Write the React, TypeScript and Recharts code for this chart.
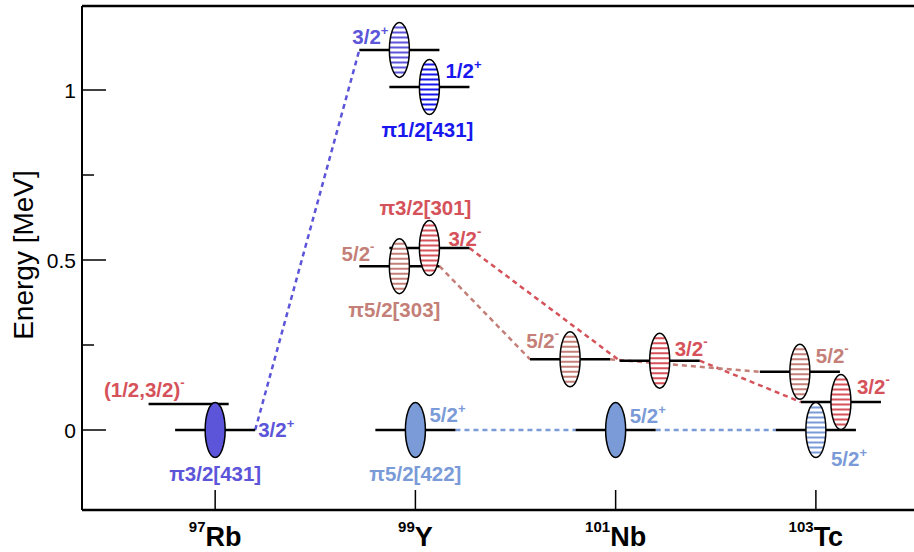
import React from "react";
import { ComposedChart, Line, Scatter, XAxis, YAxis, ReferenceLine } from "recharts";

// ---------- data ----------
const nucleusNames = ["Rb", "Y", "Nb", "Tc"];
const massNumbers = [97, 99, 101, 103];

const levelIds = ["rb_p32", "rb_neg", "y_p32", "y_p12", "y_m32", "y_m52", "y_p52", "nb_m52", "nb_m32", "nb_p52", "tc_m52", "tc_m32", "tc_p52"];
const levelNucleus = [0, 0, 1, 1, 1, 1, 1, 2, 2, 2, 3, 3, 3];
const levelEnergy = [0, 0.0765, 1.118, 1.009, 0.535, 0.482, 0, 0.208, 0.204, 0, 0.171, 0.082, 0];
const levelShift = [0, -0.265, -0.16, 0.14, 0.14, -0.16, 0, -0.455, 0.44, 0, -0.16, 0.25, 0];
const levelSpin = ["3/2", "(1/2,3/2)", "3/2", "1/2", "3/2", "5/2", "5/2", "5/2", "3/2", "5/2", "5/2", "3/2", "5/2"];
const levelParity = ["+", "-", "+", "+", "-", "-", "+", "-", "-", "+", "-", "-", "+"];
const levelBand = ["purple", "red", "purple", "blue", "red", "brown", "lightblue", "brown", "red", "lightblue", "brown", "red", "lightblue"];
const levelMarker = ["solid", "none", "striped", "striped", "striped", "striped", "solid", "striped", "striped", "solid", "striped", "striped", "striped"];

const connFrom = ["rb_p32", "y_p52", "nb_p52", "y_m32", "nb_m32", "y_m52", "nb_m52"];
const connTo = ["y_p32", "nb_p52", "tc_p52", "nb_m32", "tc_m32", "nb_m52", "tc_m52"];

const nilssonText = ["π3/2[431]", "π1/2[431]", "π3/2[301]", "π5/2[303]", "π5/2[422]"];
const nilssonLevel = ["rb_p32", "y_p12", "y_m32", "y_m52", "y_p52"];

const yTicks = [0, 0.25, 0.5, 0.75, 1];
const yMajor = [0, 0.5, 1];
const yDomain = [-0.2353, 1.2471];
const xDomain = [95.67, 104];

// ---------- styles ----------
const COLORS: Record<string, string> = {
  purple: "#5c55d9",
  blue: "#1818ee",
  red: "#d6525a",
  brown: "#c47f78",
  lightblue: "#7a9bd7",
};
const FONT = "'Liberation Sans', Arial, Helvetica, sans-serif";
const LEVEL_HALF = 0.4;
const LABEL_SIZE = 20.5;

const spinPlace: Record<string, { dx: number; dy: number; anchor: string }> = {
  rb_p32: { dx: 43, dy: 7, anchor: "start" },
  rb_neg: { dx: -4, dy: -7, anchor: "end" },
  y_p32: { dx: -11, dy: -6, anchor: "end" },
  y_p12: { dx: 16, dy: -9, anchor: "start" },
  y_m32: { dx: 19, dy: -2, anchor: "start" },
  y_m52: { dx: -25, dy: -5, anchor: "end" },
  y_p52: { dx: 14, dy: -8, anchor: "start" },
  nb_m52: { dx: -11, dy: -11, anchor: "end" },
  nb_m32: { dx: 15, dy: -5, anchor: "start" },
  nb_p52: { dx: 14, dy: -7, anchor: "start" },
  tc_m52: { dx: 16, dy: -9, anchor: "start" },
  tc_m32: { dx: 16, dy: -8, anchor: "start" },
  tc_p52: { dx: 15, dy: 36, anchor: "start" },
};
const nilssonPlace: Record<string, { dx: number; dy: number }> = {
  rb_p32: { dx: 0, dy: 51 },
  y_p12: { dx: -2, dy: 50 },
  y_m32: { dx: -4, dy: -33 },
  y_m52: { dx: -5, dy: 51 },
  y_p52: { dx: 0, dy: 51 },
};

// ---------- derived ----------
const idx = (id: string) => levelIds.indexOf(id);
const levelX = (i: number) => massNumbers[levelNucleus[i]] + levelShift[i];

const levelSegments = levelIds.map((id, i) => ({
  id,
  data: [
    { x: levelX(i) - LEVEL_HALF, y: levelEnergy[i] },
    { x: levelX(i) + LEVEL_HALF, y: levelEnergy[i] },
  ],
}));

const connectionSegments = connFrom.map((f, k) => {
  const a = idx(f);
  const b = idx(connTo[k]);
  return {
    id: f + "-" + connTo[k],
    color: COLORS[levelBand[b]],
    data: [
      { x: levelX(a) + LEVEL_HALF, y: levelEnergy[a] },
      { x: levelX(b) - LEVEL_HALF, y: levelEnergy[b] },
    ],
  };
});

const ellipseData = levelIds
  .map((id, i) => ({ id, x: levelX(i), y: levelEnergy[i], band: levelBand[i], marker: levelMarker[i] }))
  .filter((d) => d.marker !== "none");

const labelData = [
  ...levelIds.map((id, i) => ({
    id: "s-" + id,
    x: levelX(i),
    y: levelEnergy[i],
    text: levelSpin[i],
    sup: levelParity[i],
    color: COLORS[levelBand[i]],
    ...spinPlace[id],
  })),
  ...nilssonText.map((t, k) => {
    const i = idx(nilssonLevel[k]);
    return {
      id: "n-" + k,
      x: levelX(i),
      y: levelEnergy[i],
      text: t,
      sup: "",
      color: COLORS[levelBand[i]],
      anchor: "middle",
      ...nilssonPlace[nilssonLevel[k]],
    };
  }),
];

// ---------- shapes ----------
const RX = 10;
const RY = 27.5;

const EllipseShape = (props: any) => {
  const { cx, cy, payload } = props;
  const color = COLORS[payload.band];
  if (payload.marker === "solid") {
    return <ellipse cx={cx} cy={cy} rx={RX} ry={RY} fill={color} stroke="#000" strokeWidth={1.5} />;
  }
  const clipId = "clip-" + payload.id;
  const stripes = [];
  for (let k = 0; k < 10; k++) {
    const yy = cy - 22.5 + k * 5;
    stripes.push(<line key={k} x1={cx - RX - 2} x2={cx + RX + 2} y1={yy} y2={yy} stroke={color} strokeWidth={2} />);
  }
  return (
    <g>
      <defs>
        <clipPath id={clipId}>
          <ellipse cx={cx} cy={cy} rx={RX} ry={RY} />
        </clipPath>
      </defs>
      <ellipse cx={cx} cy={cy} rx={RX} ry={RY} fill="#fff" />
      <g clipPath={`url(#${clipId})`}>{stripes}</g>
      <ellipse cx={cx} cy={cy} rx={RX} ry={RY} fill="none" stroke="#000" strokeWidth={1.5} />
    </g>
  );
};

const LabelShape = (props: any) => {
  const { cx, cy, payload } = props;
  return (
    <text
      x={cx + payload.dx}
      y={cy + payload.dy}
      textAnchor={payload.anchor}
      fill={payload.color}
      fontSize={LABEL_SIZE}
      fontWeight="bold"
      fontFamily={FONT}
    >
      {payload.text}
      {payload.sup ? (
        <tspan fontSize={13} dy={payload.sup === "-" ? -10 : -9}>
          {payload.sup}
        </tspan>
      ) : null}
    </text>
  );
};

const YTick = (props: any) => {
  const { x, y, payload } = props;
  const major = yMajor.includes(payload.value);
  return (
    <g>
      <line x1={x} x2={x + (major ? 24 : 12)} y1={y} y2={y} stroke="#000" strokeWidth={1.5} />
      {major ? (
        <text x={x - 6} y={y + 8} textAnchor="end" fontSize={21} fontFamily={FONT} fill="#000">
          {payload.value}
        </text>
      ) : null}
    </g>
  );
};

const XTick = (props: any) => {
  const { x, y, payload } = props;
  const k = massNumbers.indexOf(payload.value);
  return (
    <g>
      <line x1={x} x2={x} y1={y} y2={y - 20} stroke="#000" strokeWidth={1.5} />
      <text x={x} y={y + 36} textAnchor="middle" fontFamily={FONT} fontWeight="bold" fill="#000">
        <tspan fontSize={15} dy={-14}>
          {massNumbers[k]}
        </tspan>
        <tspan fontSize={27} dy={14}>
          {nucleusNames[k]}
        </tspan>
      </text>
    </g>
  );
};

const YTitle = () => (
  <text
    x={33}
    y={255}
    transform="rotate(-90, 33, 255)"
    textAnchor="middle"
    fontSize={28}
    fontFamily={FONT}
    fill="#000"
  >
    Energy [MeV]
  </text>
);

export default function App() {
  return (
    <div style={{ position: "absolute", left: 0, top: 0, width: 914, height: 552, overflow: "hidden", background: "#fff" }}>
      <ComposedChart width={916} height={552} margin={{ top: 6, right: 0, bottom: 0, left: 0 }}>
        <XAxis
          type="number"
          dataKey="x"
          domain={xDomain}
          allowDataOverflow
          ticks={massNumbers}
          interval={0}
          tickSize={0}
          tickMargin={0}
          tickLine={false}
          tick={<XTick />}
          height={42}
          axisLine={{ stroke: "#000", strokeWidth: 2.5 }}
        />
        <YAxis
          type="number"
          dataKey="y"
          domain={yDomain}
          allowDataOverflow
          ticks={yTicks}
          interval={0}
          tickSize={0}
          tickMargin={0}
          tickLine={false}
          tick={<YTick />}
          width={82}
          axisLine={{ stroke: "#000", strokeWidth: 2 }}
          label={<YTitle />}
        />
        <ReferenceLine y={yDomain[1]} stroke="#000" strokeWidth={2.5} />
        {connectionSegments.map((c) => (
          <Line
            key={c.id}
            data={c.data}
            dataKey="y"
            type="linear"
            stroke={c.color}
            strokeWidth={2.5}
            strokeDasharray="5 4"
            dot={false}
            activeDot={false}
            isAnimationActive={false}
            legendType="none"
          />
        ))}
        {levelSegments.map((s) => (
          <Line
            key={s.id}
            data={s.data}
            dataKey="y"
            type="linear"
            stroke="#000"
            strokeWidth={2.5}
            dot={false}
            activeDot={false}
            isAnimationActive={false}
            legendType="none"
          />
        ))}
        <Scatter data={ellipseData} dataKey="y" shape={EllipseShape} isAnimationActive={false} />
        <Scatter data={labelData} dataKey="y" shape={LabelShape} isAnimationActive={false} />
      </ComposedChart>
    </div>
  );
}
